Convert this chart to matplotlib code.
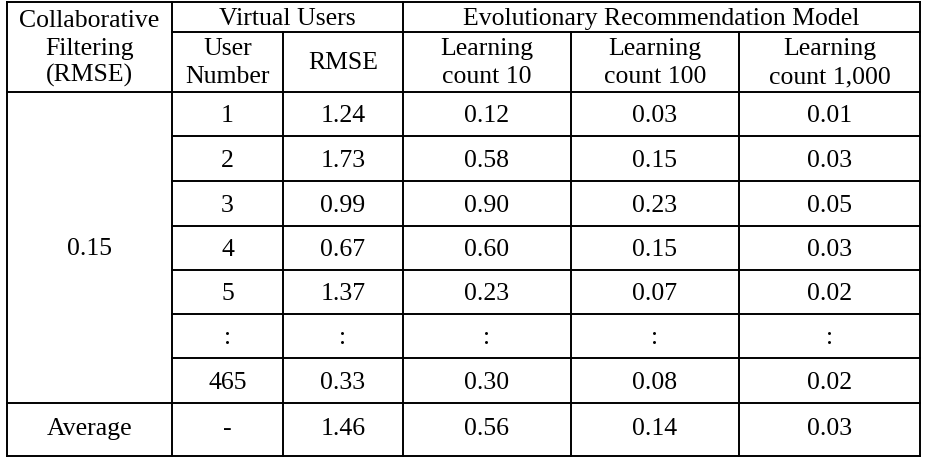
import matplotlib.pyplot as plt

plt.rcParams['font.family'] = 'serif'
plt.rcParams['font.serif'] = ['Liberation Serif', 'DejaVu Serif']

# table content
user_numbers = ['1', '2', '3', '4', '5', ':', '465']
vu_rmse = ['1.24', '1.73', '0.99', '0.67', '1.37', ':', '0.33']
lc_10 = ['0.12', '0.58', '0.90', '0.60', '0.23', ':', '0.30']
lc_100 = ['0.03', '0.15', '0.23', '0.15', '0.07', ':', '0.08']
lc_1000 = ['0.01', '0.03', '0.05', '0.03', '0.02', ':', '0.02']
cf_rmse = '0.15'
average_row = ['Average', '-', '1.46', '0.56', '0.14', '0.03']

header_top = [['Collaborative', 'Filtering', '(RMSE)'], ['Virtual Users'], ['Evolutionary Recommendation Model']]
header_sub = [['User', 'Number'], ['RMSE'], ['Learning', 'count 10'], ['Learning', 'count 100'],
              ['Learning', 'count 1,000']]

# layout (pixels)
col_x = [7, 172, 283, 403, 571, 739, 920]
row_y = [92, 136, 181, 226, 270, 314, 358, 403]
y_top, y_sub, y_bottom = 2, 32, 456

fig = plt.figure(figsize=(9.29, 4.63), dpi=100)
ax = fig.add_axes([0, 0, 1, 1])
ax.set_xlim(0, 929)
ax.set_ylim(463, 0)
ax.axis('off')

lw = 1.4
line_kw = dict(color='black', lw=lw, solid_capstyle='projecting')

# horizontal lines
for y in [y_top, row_y[0], row_y[-1], y_bottom]:
    ax.plot([col_x[0], col_x[-1]], [y, y], **line_kw)
for y in [y_sub] + row_y[1:-1]:
    ax.plot([col_x[1], col_x[-1]], [y, y], **line_kw)

# vertical lines
for x in [col_x[0], col_x[1], col_x[3], col_x[-1]]:
    ax.plot([x, x], [y_top, y_bottom], **line_kw)
for x in [col_x[2], col_x[4], col_x[5]]:
    ax.plot([x, x], [y_sub, y_bottom], **line_kw)

fs = 18.5
txt_kw = dict(ha='center', va='baseline', fontsize=fs, color='black')


def cx(i, j=None):
    j = i + 1 if j is None else j
    return (col_x[i] + col_x[j]) / 2


def put(x, baselines, lines):
    for b, s in zip(baselines, lines):
        ax.text(x, b, s, **txt_kw)


# headers
put(cx(0), [27, 55, 82], header_top[0])
put(cx(1, 3), [25], header_top[1])
put(cx(3, 6), [25], header_top[2])
for k, lines in enumerate(header_sub):
    if len(lines) == 2:
        put(cx(k + 1), [55, 83], lines)
    else:
        put(cx(k + 1), [69], lines)

# body
columns = [user_numbers, vu_rmse, lc_10, lc_100, lc_1000]
for r in range(len(user_numbers)):
    yc = (row_y[r] + row_y[r + 1]) / 2 + 8.5
    for k, col in enumerate(columns):
        ax.text(cx(k + 1), yc, col[r], **txt_kw)
ax.text(cx(0), (row_y[0] + row_y[-1]) / 2 + 7.5, cf_rmse, **txt_kw)

# average row
for k, val in enumerate(average_row):
    ax.text(cx(k), 435, val, **txt_kw)

fig.savefig('out.png', dpi=100, facecolor='white')
